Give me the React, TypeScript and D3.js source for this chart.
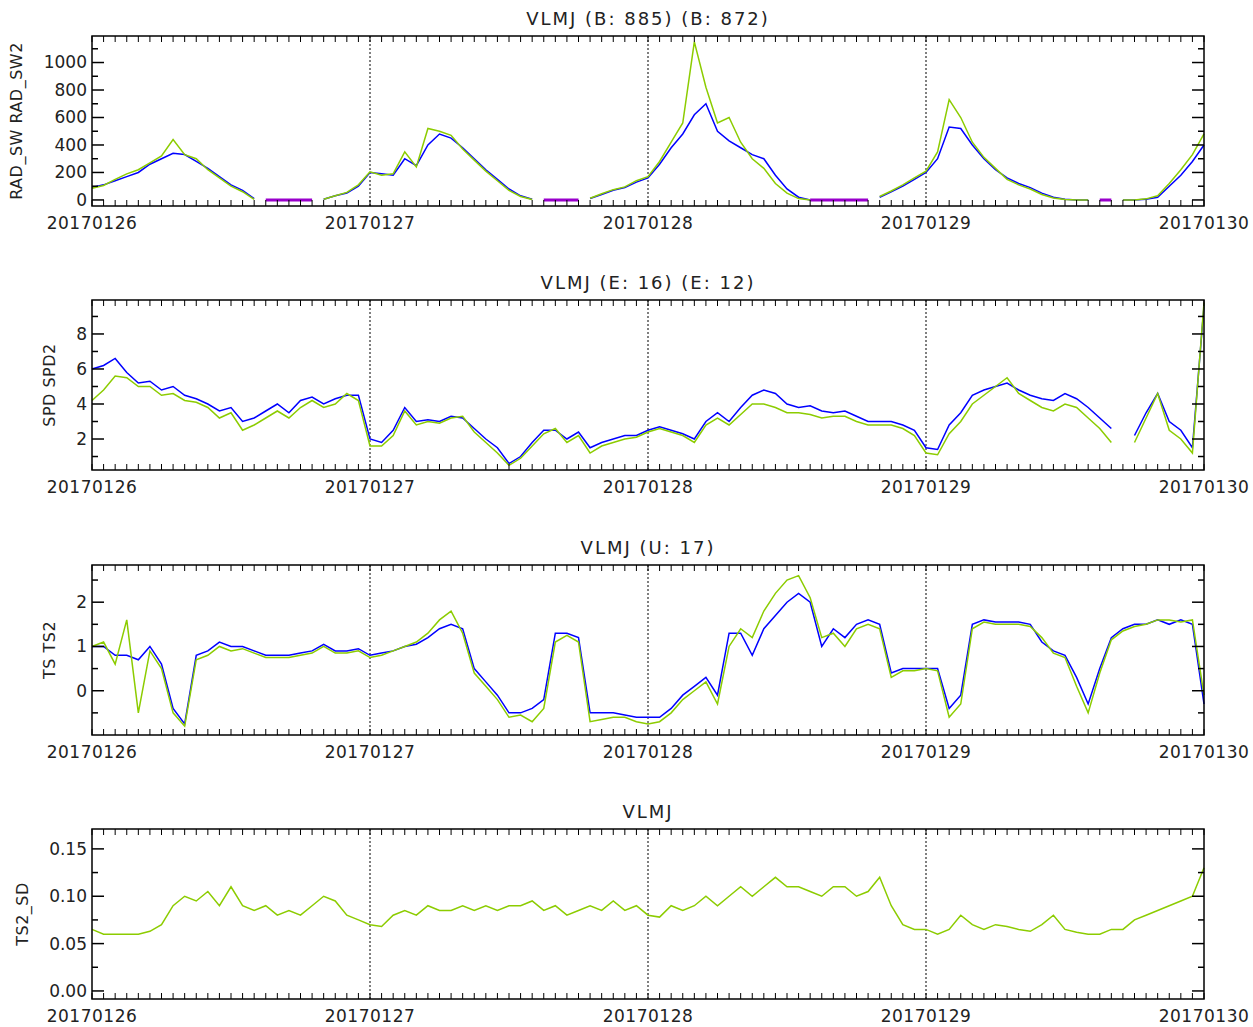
import { useEffect, useRef } from "react";
import * as d3 from "d3";

// hourly samples, hour 0 = 20170126 00:00, hour 96 = 20170130 00:00
const dayLabels = ["20170126", "20170127", "20170128", "20170129", "20170130"];
const N = NaN;

const radSw = [90,110,140,170,200,260,300,340,330,280,230,170,110,70,10,N,N,N,N,N,
  5,30,50,100,200,190,180,300,250,400,480,450,380,300,220,150,80,30,5,N,N,N,N,
  10,40,70,90,130,160,260,380,480,620,700,500,430,380,330,300,180,80,20,0,N,N,N,N,N,
  20,60,100,150,200,300,530,520,400,300,220,160,120,90,50,20,5,0,0,N,N,0,0,5,20,100,180,280,400];
const radSw2 = [85,105,150,190,220,270,320,440,330,300,220,160,100,60,5,N,N,N,N,N,
  5,30,55,110,205,180,190,350,240,520,500,470,370,290,210,140,70,25,3,N,N,N,N,
  12,45,75,95,140,170,280,420,560,1150,820,560,600,420,300,230,120,50,10,0,N,N,N,N,N,
  25,65,110,160,210,350,730,600,420,310,230,150,110,80,40,15,3,0,0,N,N,0,0,8,30,120,220,330,480];
const radMissing = [N,N,N,N,N,N,N,N,N,N,N,N,N,N,N,0,0,0,0,0,N,N,N,N,N,N,N,N,N,N,N,N,N,N,N,N,N,N,N,
  0,0,0,0,N,N,N,N,N,N,N,N,N,N,N,N,N,N,N,N,N,N,N,0,0,0,0,0,0,N,N,N,N,N,N,N,N,N,N,N,N,N,N,N,N,N,N,N,
  0,0,N,N,N,N,N,N,N,N];

const spd = [6,6.2,6.6,5.8,5.2,5.3,4.8,5,4.5,4.3,4,3.6,3.8,3,3.2,3.6,4,3.5,4.2,4.4,4,4.3,4.5,4.5,
  2,1.8,2.5,3.8,3,3.1,3,3.3,3.2,2.6,2,1.5,0.6,1,1.8,2.5,2.5,2,2.4,1.5,1.8,2,2.2,2.2,
  2.5,2.7,2.5,2.3,2,3,3.5,3,3.8,4.5,4.8,4.6,4,3.8,3.9,3.6,3.5,3.6,3.3,3,3,3,2.8,2.5,
  1.5,1.4,2.8,3.5,4.5,4.8,5,5.2,4.8,4.5,4.3,4.2,4.6,4.3,3.8,3.2,2.6,N,2.2,3.5,4.6,3,2.5,1.5,9.6];
const spd2 = [4.2,4.8,5.6,5.5,5,5,4.5,4.6,4.2,4.1,3.8,3.2,3.5,2.5,2.8,3.2,3.6,3.2,3.8,4.2,3.8,4,4.6,4.2,
  1.6,1.6,2.2,3.6,2.8,3,2.9,3.2,3.3,2.4,1.8,1.2,0.5,0.9,1.6,2.3,2.6,1.8,2.2,1.2,1.6,1.8,2,2.1,
  2.4,2.6,2.4,2.2,1.8,2.8,3.2,2.8,3.4,4,4,3.8,3.5,3.5,3.4,3.2,3.3,3.3,3,2.8,2.8,2.8,2.6,2.2,
  1.2,1.1,2.3,3,4,4.5,5,5.5,4.6,4.2,3.8,3.6,4,3.8,3.2,2.6,1.8,N,1.8,3.2,4.6,2.5,2,1.2,9.8];

const ts = [1,1,0.8,0.8,0.7,1,0.6,-0.4,-0.75,0.8,0.9,1.1,1,1,0.9,0.8,0.8,0.8,0.85,0.9,1.05,0.9,0.9,0.95,
  0.8,0.85,0.9,1,1.05,1.2,1.4,1.5,1.4,0.5,0.2,-0.1,-0.5,-0.5,-0.4,-0.2,1.3,1.3,1.2,-0.5,-0.5,-0.5,-0.55,-0.6,
  -0.6,-0.6,-0.4,-0.1,0.1,0.3,-0.1,1.3,1.3,0.8,1.4,1.7,2,2.2,2,1,1.4,1.2,1.5,1.6,1.5,0.4,0.5,0.5,
  0.5,0.5,-0.4,-0.1,1.5,1.6,1.55,1.55,1.55,1.5,1.1,0.9,0.8,0.3,-0.3,0.5,1.2,1.4,1.5,1.5,1.6,1.5,1.6,1.5,-0.3];
const ts2 = [1,1.1,0.6,1.6,-0.5,0.9,0.5,-0.5,-0.8,0.7,0.8,1,0.9,0.95,0.85,0.75,0.75,0.75,0.8,0.85,1,0.85,0.85,0.9,
  0.75,0.8,0.9,1,1.1,1.3,1.6,1.8,1.3,0.4,0.1,-0.2,-0.6,-0.55,-0.7,-0.4,1.1,1.25,1.1,-0.7,-0.65,-0.6,-0.6,-0.7,
  -0.75,-0.7,-0.5,-0.2,0,0.2,-0.3,1,1.4,1.2,1.8,2.2,2.5,2.6,2.1,1.2,1.3,1,1.4,1.5,1.4,0.3,0.45,0.45,
  0.5,0.45,-0.6,-0.3,1.4,1.55,1.5,1.5,1.5,1.45,1.2,0.85,0.75,0.1,-0.5,0.4,1.15,1.35,1.45,1.5,1.6,1.6,1.55,1.6,-0.1];

const tsSd = [0.065,0.06,0.06,0.06,0.06,0.063,0.07,0.09,0.1,0.095,0.105,0.09,0.11,0.09,0.085,0.09,0.08,0.085,0.08,0.09,0.1,0.095,0.08,0.075,
  0.07,0.068,0.08,0.085,0.08,0.09,0.085,0.085,0.09,0.085,0.09,0.085,0.09,0.09,0.095,0.085,0.09,0.08,0.085,0.09,0.085,0.095,0.085,0.09,
  0.08,0.078,0.09,0.085,0.09,0.1,0.09,0.1,0.11,0.1,0.11,0.12,0.11,0.11,0.105,0.1,0.11,0.11,0.1,0.105,0.12,0.09,0.07,0.065,
  0.065,0.06,0.065,0.08,0.07,0.065,0.07,0.068,0.065,0.063,0.07,0.08,0.065,0.062,0.06,0.06,0.065,0.065,0.075,0.08,0.085,0.09,0.095,0.1,0.13];

const BLUE = "#0000ff";
const GREEN = "#8ccc00";
const PURPLE = "#9900cc";

interface Series { values: number[]; color: string; width: number; }
interface Panel {
  title: string; ylabel: string; ylabelX: number; top: number;
  domain: [number, number]; major: number[]; minor: number[]; fmt: (v: number) => string;
  series: Series[];
}

const panels: Panel[] = [
  { title: "VLMJ (B: 885) (B: 872)", ylabel: "RAD_SW RAD_SW2", ylabelX: 22, top: 36, domain: [-44, 1193],
    major: [0, 200, 400, 600, 800, 1000], minor: d3.range(100, 1200, 200), fmt: d => String(d),
    series: [{ values: radSw, color: BLUE, width: 1.5 }, { values: radSw2, color: GREEN, width: 1.5 }, { values: radMissing, color: PURPLE, width: 3 }] },
  { title: "VLMJ (E: 16) (E: 12)", ylabel: "SPD SPD2", ylabelX: 55, top: 300, domain: [0.23, 9.94],
    major: [2, 4, 6, 8], minor: [1, 3, 5, 7, 9], fmt: d => String(d),
    series: [{ values: spd, color: BLUE, width: 1.5 }, { values: spd2, color: GREEN, width: 1.5 }] },
  { title: "VLMJ (U: 17)", ylabel: "TS TS2", ylabelX: 55, top: 565, domain: [-1, 2.84],
    major: [0, 1, 2], minor: [-0.5, 0.5, 1.5, 2.5], fmt: d => String(d),
    series: [{ values: ts, color: BLUE, width: 1.5 }, { values: ts2, color: GREEN, width: 1.5 }] },
  { title: "VLMJ", ylabel: "TS2_SD", ylabelX: 28, top: 829, domain: [-0.0085, 0.171],
    major: [0, 0.05, 0.1, 0.15], minor: [0.025, 0.075, 0.125], fmt: d => d.toFixed(2),
    series: [{ values: tsSd, color: GREEN, width: 1.5 }] },
];

export default function App() {
  const ref = useRef<SVGSVGElement>(null);

  useEffect(() => {
    if (!ref.current) return;
    const svg = d3.select(ref.current);
    svg.selectAll("*").remove();
    const left = 92, right = 1204, h = 170;
    const font = "DejaVu Sans, sans-serif";
    const x = d3.scaleLinear().domain([0, 96]).range([left, right]);

    panels.forEach(p => {
      const y = d3.scaleLinear().domain(p.domain).range([p.top + h, p.top]);
      const g = svg.append("g");

      // day separators
      [24, 48, 72].forEach(hr => {
        g.append("line").attr("x1", x(hr)).attr("x2", x(hr)).attr("y1", p.top).attr("y2", p.top + h)
          .attr("stroke", "#000").attr("stroke-dasharray", "2,2").attr("stroke-width", 1);
      });

      // series
      p.series.forEach(s => {
        const line = d3.line<number>().defined(v => !isNaN(v)).x((_, i) => x(i)).y(v => y(v));
        g.append("path").attr("d", line(s.values)).attr("fill", "none")
          .attr("stroke", s.color).attr("stroke-width", s.width);
      });

      // frame
      g.append("rect").attr("x", left).attr("y", p.top).attr("width", right - left).attr("height", h)
        .attr("fill", "none").attr("stroke", "#000").attr("stroke-width", 1.5);

      // x ticks (hourly)
      d3.range(0, 97).forEach(hr => {
        g.append("line").attr("x1", x(hr)).attr("x2", x(hr)).attr("y1", p.top + h).attr("y2", p.top + h - 6).attr("stroke", "#000");
        g.append("line").attr("x1", x(hr)).attr("x2", x(hr)).attr("y1", p.top).attr("y2", p.top + 6).attr("stroke", "#000");
      });
      dayLabels.forEach((d, i) => {
        g.append("text").attr("x", x(i * 24)).attr("y", p.top + h + 23).attr("text-anchor", "middle")
          .attr("font-family", font).attr("font-size", 17).attr("letter-spacing", 0.5).attr("fill", "#222").text(d);
      });

      // y ticks
      const yt = (vals: number[], len: number) => vals.forEach(v => {
        g.append("line").attr("x1", left).attr("x2", left + len).attr("y1", y(v)).attr("y2", y(v)).attr("stroke", "#000").attr("stroke-width", 1.5);
        g.append("line").attr("x1", right).attr("x2", right - len).attr("y1", y(v)).attr("y2", y(v)).attr("stroke", "#000").attr("stroke-width", 1.5);
      });
      yt(p.major, 12);
      yt(p.minor.filter(v => v > p.domain[0] && v < p.domain[1]), 6);
      p.major.forEach(v => {
        g.append("text").attr("x", left - 5).attr("y", y(v)).attr("dy", "0.35em").attr("text-anchor", "end")
          .attr("font-family", font).attr("font-size", 17).attr("fill", "#222").text(p.fmt(v));
      });

      g.append("text").attr("x", (left + right) / 2).attr("y", p.top - 11).attr("text-anchor", "middle")
        .attr("font-family", font).attr("font-size", 18).attr("letter-spacing", 2).attr("fill", "#222").text(p.title);
      g.append("text").attr("transform", `translate(${p.ylabelX},${p.top + h / 2}) rotate(-90)`)
        .attr("text-anchor", "middle").attr("font-family", font).attr("font-size", 16).attr("letter-spacing", 0.5).attr("fill", "#222").text(p.ylabel);
    });
  }, []);

  return <svg ref={ref} width={1253} height={1027} style={{ display: "block", position: "absolute", left: 0, top: 0 }} />;
}
